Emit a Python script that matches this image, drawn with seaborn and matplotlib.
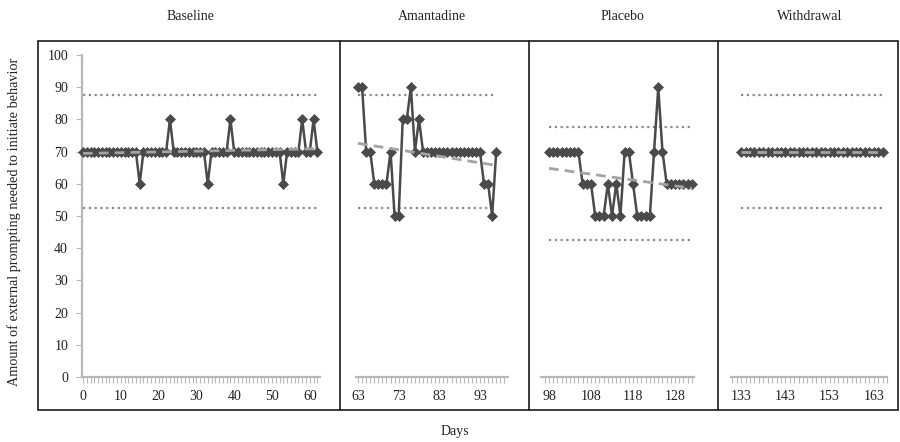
import numpy as np
import pandas as pd
import matplotlib
matplotlib.use("Agg")
import matplotlib.pyplot as plt
from matplotlib.lines import Line2D
from matplotlib.patches import Rectangle
from matplotlib.ticker import FixedLocator, MultipleLocator
import seaborn as sns

# ---------------- data ----------------
phases = ["Baseline", "Amantadine", "Placebo", "Withdrawal"]

baseline_days = list(range(0, 63))
baseline_vals = [70, 70, 70, 70, 70, 70, 70, 70, 70, 70,
                 70, 70, 70, 70, 70, 60, 70, 70, 70, 70,
                 70, 70, 70, 80, 70, 70, 70, 70, 70, 70,
                 70, 70, 70, 60, 70, 70, 70, 70, 70, 80,
                 70, 70, 70, 70, 70, 70, 70, 70, 70, 70,
                 70, 70, 70, 60, 70, 70, 70, 70, 80, 70,
                 70, 80, 70]

amantadine_days = list(range(63, 98))
amantadine_vals = [90, 90, 70, 70, 60, 60, 60, 60, 70, 50,
                   50, 80, 80, 90, 70, 80, 70, 70, 70, 70,
                   70, 70, 70, 70, 70, 70, 70, 70, 70, 70,
                   70, 60, 60, 50, 70]

placebo_days = list(range(98, 133))
placebo_vals = [70, 70, 70, 70, 70, 70, 70, 70, 60, 60,
                60, 50, 50, 50, 60, 50, 60, 50, 70, 70,
                60, 50, 50, 50, 50, 70, 90, 70, 60, 60,
                60, 60, 60, 60, 60]

withdrawal_days = list(range(133, 166))
withdrawal_vals = [70, 70, 70, 70, 70, 70, 70, 70, 70, 70,
                   70, 70, 70, 70, 70, 70, 70, 70, 70, 70,
                   70, 70, 70, 70, 70, 70, 70, 70, 70, 70,
                   70, 70, 70]

upper_band = [87.5, 87.5, 77.5, 87.5]
lower_band = [52.5, 52.5, 42.5, 52.5]

x_tick_labels = [[0, 10, 20, 30, 40, 50, 60],
                 [63, 73, 83, 93],
                 [98, 108, 118, 128],
                 [133, 143, 153, 163]]
y_ticks = [0, 10, 20, 30, 40, 50, 60, 70, 80, 90, 100]

all_days = [baseline_days, amantadine_days, placebo_days, withdrawal_days]
all_vals = [baseline_vals, amantadine_vals, placebo_vals, withdrawal_vals]

# ---------------- style ----------------
sns.set_theme(style="white")
plt.rcParams["font.family"] = ["Liberation Serif", "DejaVu Serif"]
plt.rcParams["font.size"] = 10

W, H = 900, 442
fig = plt.figure(figsize=(W / 100, H / 100), dpi=100)

def fx(px):
    return px / W

def fy(py):
    return 1 - py / H

# axes pixel boxes: (left, right) and x-limits
ax_specs = [
    (82, 320, (-0.26, 62.7)),
    (356, 508, (62.5, 99.9)),
    (541, 694, (96.1, 132.5)),
    (731, 887, (130.7, 166.0)),
]
y_bottom_px, y_top_px = 377, 55

line_col = "#4a4a4a"
axis_col = "#b8b8b8"
trend_col = "#a3a3a3"
band_col = "#8a8a8a"

for i, (l, r, xlim) in enumerate(ax_specs):
    ax = fig.add_axes([fx(l), fy(y_bottom_px), fx(r - l), (y_bottom_px - y_top_px) / H])
    ax.set_facecolor("none")
    df = pd.DataFrame({"day": all_days[i], "value": all_vals[i]})

    # limits bands
    ax.hlines([upper_band[i], lower_band[i]], df["day"].min(), df["day"].max(),
              colors=band_col, linestyles=(0, (1, 1.6)), linewidth=1.6, zorder=1)

    sns.lineplot(data=df, x="day", y="value", ax=ax, color=line_col,
                 marker="D", markersize=5, markeredgecolor=line_col,
                 markeredgewidth=0.5, linewidth=1.8, zorder=3, clip_on=False)

    sns.regplot(data=df, x="day", y="value", ax=ax, scatter=False, ci=None,
                truncate=True,
                line_kws={"color": trend_col, "linestyle": (0, (3.5, 2.2)),
                          "linewidth": 2.0, "zorder": 4})

    ax.set_xlim(*xlim)
    ax.set_ylim(0, 100)
    ax.set_xlabel("")
    ax.set_ylabel("")

    for s in ["top", "right"]:
        ax.spines[s].set_visible(False)
    ax.spines["bottom"].set_color(axis_col)
    ax.spines["bottom"].set_linewidth(1.6)

    ax.xaxis.set_major_locator(FixedLocator(x_tick_labels[i]))
    ax.xaxis.set_minor_locator(MultipleLocator(1))
    ax.tick_params(axis="x", which="both", bottom=True, direction="out",
                   length=4, width=0.8, color=axis_col, labelsize=10,
                   pad=5, labelcolor="#222222")

    if i == 0:
        ax.spines["left"].set_color(axis_col)
        ax.spines["left"].set_linewidth(1.6)
        ax.yaxis.set_major_locator(FixedLocator(y_ticks))
        ax.tick_params(axis="y", which="major", left=True, direction="out",
                       length=4, width=0.8, color=axis_col, labelsize=10,
                       pad=6, labelcolor="#222222")
    else:
        ax.spines["left"].set_visible(False)
        ax.set_yticks([])

# outer frame and separators
fig.add_artist(Rectangle((fx(38), fy(410)), fx(898 - 38), (410 - 41) / H,
                         transform=fig.transFigure, fill=False,
                         edgecolor="#1a1a1a", linewidth=1.2))
for sx in [340, 529, 718]:
    fig.add_artist(Line2D([fx(sx), fx(sx)], [fy(410), fy(41)],
                          transform=fig.transFigure, color="#1a1a1a", linewidth=1.2))

# titles
title_x = [190, 432, 622, 810]
for name, tx in zip(phases, title_x):
    fig.text(fx(tx), fy(16), name, ha="center", va="center", fontsize=10, color="#222222")

fig.text(fx(455), fy(432), "Days", ha="center", va="center", fontsize=10, color="#222222")
fig.text(fx(14), fy(222), "Amount of external prompting needed to initiate behavior",
         ha="center", va="center", rotation=90, fontsize=10.3, color="#222222")

fig.savefig("out.png", dpi=100)
